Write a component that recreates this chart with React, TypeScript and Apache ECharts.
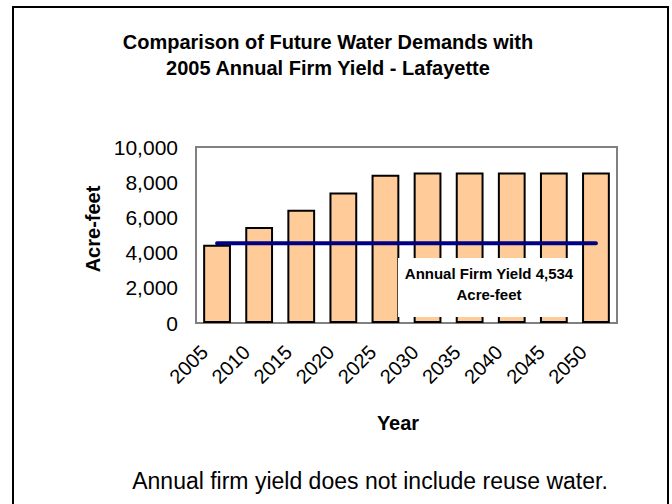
import React, { useEffect, useRef } from "react";
import * as echarts from "echarts";

const years = ["2005", "2010", "2015", "2020", "2025", "2030", "2035", "2040", "2045", "2050"];
const demands = [4450, 5460, 6430, 7410, 8420, 8550, 8550, 8550, 8550, 8550];
const firmYield = [4534, 4534, 4534, 4534, 4534, 4534, 4534, 4534, 4534, 4534];
const titleLines = ["Comparison of Future Water Demands with", "2005 Annual Firm Yield - Lafayette"];
const boxLines = ["Annual Firm Yield 4,534", "Acre-feet"];
const footnote = "Annual firm yield does not include reuse water.";

const FONT = "'Liberation Sans', Arial, sans-serif";

export default function App() {
  const ref = useRef<HTMLDivElement>(null);
  useEffect(() => {
    if (!ref.current) return;
    const chart = echarts.init(ref.current, null, { renderer: "svg" });
    chart.setOption({
      animation: false,
      backgroundColor: "#ffffff",
      textStyle: { fontFamily: FONT },
      grid: { left: 196, right: 55, top: 147, bottom: 181, show: true, borderColor: "#808080", borderWidth: 2, backgroundColor: "transparent" },
      xAxis: {
        type: "category",
        data: years,
        axisLine: { show: true, lineStyle: { color: "#808080", width: 2 } },
        axisTick: { show: false },
        axisLabel: { interval: 0, rotate: 45, margin: 13, padding: [0, 18, 0, 0], fontSize: 20, color: "#000", fontFamily: FONT },
      },
      yAxis: {
        type: "value",
        min: 0,
        max: 10000,
        interval: 2000,
        splitLine: { show: false },
        axisLine: { show: true, lineStyle: { color: "#808080", width: 2 } },
        axisTick: { show: false },
        axisLabel: {
          margin: 18,
          fontSize: 21,
          color: "#000",
          fontFamily: FONT,
          formatter: (v: number) => v.toLocaleString("en-US"),
        },
      },
      series: [
        {
          type: "bar",
          data: demands,
          barWidth: "66%",
          itemStyle: { color: "#FFCC99", borderColor: "#000", borderWidth: 2 },
          z: 2,
        },
        {
          type: "line",
          data: firmYield,
          symbol: "none",
          lineStyle: { color: "#000080", width: 4, cap: "round" },
          z: 3,
        },
      ],
      graphic: [
        { type: "rect", shape: { x: 13, y: 7, width: 655, height: 510 }, style: { fill: "none", stroke: "#000", lineWidth: 2 }, z: 10 },
        { type: "text", x: 328, y: 42, style: { text: titleLines[0], font: `bold 20px ${FONT}`, fill: "#000", textAlign: "center", textVerticalAlign: "middle" } },
        { type: "text", x: 328, y: 68, style: { text: titleLines[1], font: `bold 20px ${FONT}`, fill: "#000", textAlign: "center", textVerticalAlign: "middle" } },
        { type: "rect", shape: { x: 398, y: 258, width: 184, height: 59 }, style: { fill: "#fff" }, z: 20 },
        { type: "text", x: 489, y: 273, z: 21, style: { text: boxLines[0], font: `bold 15px ${FONT}`, fill: "#000", textAlign: "center", textVerticalAlign: "middle" } },
        { type: "text", x: 489, y: 294, z: 21, style: { text: boxLines[1], font: `bold 15px ${FONT}`, fill: "#000", textAlign: "center", textVerticalAlign: "middle" } },
        { type: "text", x: 93, y: 229, rotation: Math.PI / 2, style: { text: "Acre-feet", font: `bold 20px ${FONT}`, fill: "#000", textAlign: "center", textVerticalAlign: "middle" } },
        { type: "text", x: 398, y: 423, style: { text: "Year", font: `bold 20px ${FONT}`, fill: "#000", textAlign: "center", textVerticalAlign: "middle" } },
        { type: "text", x: 370, y: 481, style: { text: footnote, font: `23px ${FONT}`, fill: "#000", textAlign: "center", textVerticalAlign: "middle" } },
      ],
    });
    return () => chart.dispose();
  }, []);
  return <div ref={ref} style={{ position: "absolute", left: 0, top: 0, width: 672, height: 504 }} />;
}
